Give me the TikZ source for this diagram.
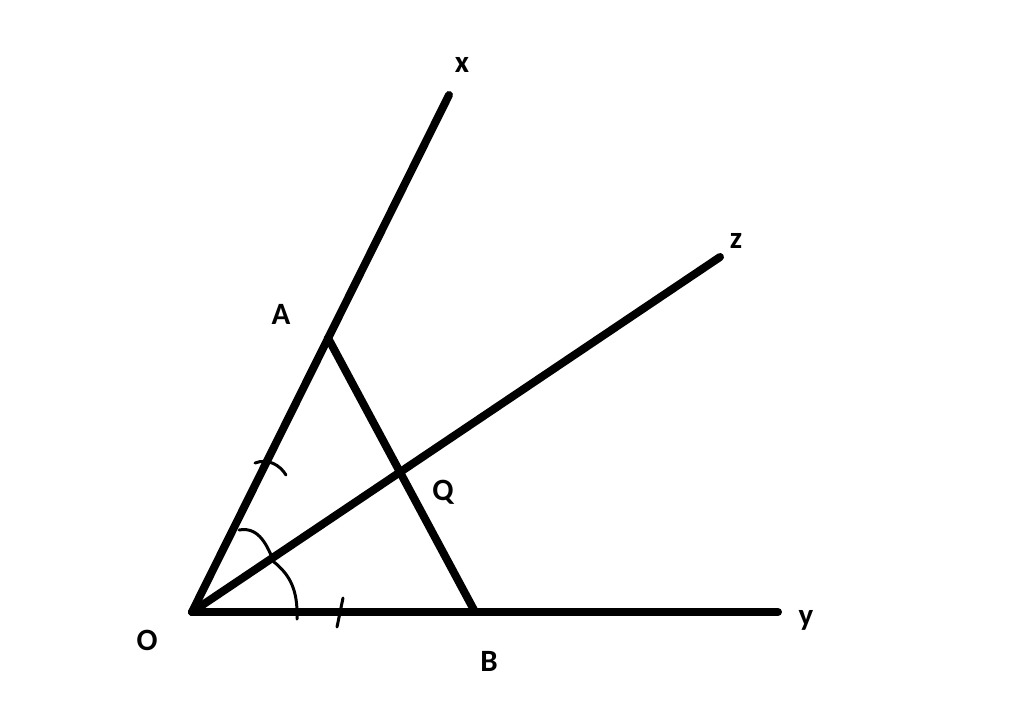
\documentclass[tikz,border=0pt]{standalone}
\usepackage{fontspec}
\setmainfont{Carlito}
\usetikzlibrary{calc}

\begin{document}
\begin{tikzpicture}[x=1pt,y=-1pt]
\tikzstyle{ray} = [line width = 8pt, line cap = round]
\tikzstyle{thin stroke} = [line width = 3pt, line cap = round]
\tikzstyle{lbl} = [font = \fontsize{31}{34}\selectfont\bfseries, inner sep = 0pt]
\useasboundingbox (0,0) rectangle (1024,724);
\coordinate (O) at (192,612);
\coordinate (X) at (449,95);
\coordinate (Z) at (720,257);
\coordinate (Y) at (778,612);
\coordinate (A) at (328,338);
\coordinate (B) at (474,610);
\coordinate (Q) at (intersection of O--Z and A--B);
% rays
\draw[ray] (O) -- (X);
\draw[ray] (O) -- (Z);
\draw[ray] (O) -- (Y);
\draw[ray] (A) -- (B);
% equal marks and angle
\draw[thin stroke] (255,463) .. controls (268,458) and (280,465) .. (286,475);
\draw[thin stroke] (343,598) -- (337,627);
\draw[thin stroke] (239,530) .. controls (260,526) and (268,548) .. (274,562)
	.. controls (290,575) and (298,590) .. (297,619);
% labels
\node[lbl] (lx) at (462,65) {x};
\node[lbl] (lz) at (736,241) {z};
\node[lbl] (ly) at (806,620) {y};
\node[lbl] (lA) at (281,314) {A};
\node[lbl] (lO) at (147,640) {O};
\node[lbl] (lB) at (489,661) {B};
\node[lbl] (lQ) at (443,492) {Q};
\end{tikzpicture}
\end{document}
